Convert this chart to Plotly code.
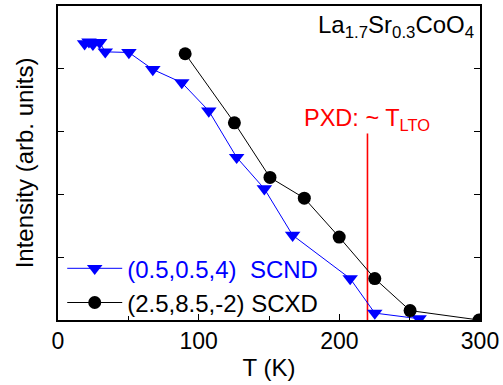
import plotly.graph_objects as go

# SCND (0.5,0.5,4) triangles
t_scnd = [18.9, 22.0, 24.8, 29.6, 33.6, 50.4, 67.4, 88.0, 107.2, 127.0, 146.7, 166.8, 207.7, 225.2, 256.7]
i_scnd = [4.40, 4.43, 4.39, 4.42, 4.27, 4.26, 3.99, 3.78, 3.33, 2.59, 2.09, 1.35, 0.66, 0.11, 0.02]

# SCXD (2.5,8.5,-2) circles
t_scxd = [90.4, 125.4, 150.7, 175.1, 199.9, 225.2, 250.3, 299.3]
i_scxd = [4.24, 3.14, 2.27, 1.94, 1.32, 0.66, 0.15, 0.0]

# PXD T_LTO marker line
t_lto = [220.0, 220.0]
i_lto = [0.0, 2.97]

FONT = "Arial, Liberation Sans, sans-serif"

fig = go.Figure()
fig.add_trace(go.Scatter(
    x=t_lto, y=i_lto, mode="lines", line=dict(color="#ff0000", width=1.6),
    showlegend=False, hoverinfo="skip"))
fig.add_trace(go.Scatter(
    x=t_scnd, y=i_scnd, mode="lines+markers",
    name='<span style="color:#0000ff">(0.5,0.5,4)  SCND</span>',
    line=dict(color="#0000ff", width=1),
    marker=dict(symbol="triangle-down", size=13.5, color="#0000ff")))
fig.add_trace(go.Scatter(
    x=t_scxd, y=i_scxd, mode="lines+markers",
    name="(2.5,8.5,-2) SCXD",
    line=dict(color="#000000", width=1),
    marker=dict(symbol="circle", size=13, color="#000000")))

fig.add_annotation(
    x=0.99, y=0.935, xref="paper", yref="paper", xanchor="right", yanchor="middle",
    text="La<sub>1.7</sub>Sr<sub>0.3</sub>CoO<sub>4</sub>", showarrow=False,
    font=dict(family=FONT, size=24, color="#000000"))
fig.add_annotation(
    x=t_lto[0], y=3.2, xref="x", yref="y", xanchor="center", yanchor="middle",
    text="PXD: ~ T<sub>LTO</sub>", showarrow=False,
    font=dict(family=FONT, size=23.5, color="#ff0000"))

fig.update_layout(
    width=503, height=385,
    margin=dict(l=58, r=22, t=4, b=65),
    paper_bgcolor="white", plot_bgcolor="white",
    font=dict(family=FONT, size=24, color="#000000"),
    legend=dict(x=0.01, y=0.235, xanchor="left", yanchor="top",
                bgcolor="rgba(0,0,0,0)", borderwidth=0,
                font=dict(family=FONT, size=24, color="#000000"),
                itemwidth=55, tracegroupgap=0),
)
fig.update_xaxes(
    range=[0, 300], tickvals=[0, 100, 200, 300], ticks="inside", ticklen=6,
    tickwidth=1, tickcolor="#000000",
    minor=dict(tickvals=[50, 150, 250], ticks="inside", ticklen=4, tickcolor="#000000"),
    showline=True, linecolor="#000000", linewidth=1.5, mirror=True,
    showgrid=False, zeroline=False,
    title=dict(text="T (K)", standoff=6, font=dict(size=24)),
    tickfont=dict(size=23))
fig.update_yaxes(
    range=[0, 5], tickvals=[1, 2, 3, 4], showticklabels=False,
    ticks="inside", ticklen=6, tickwidth=1, tickcolor="#000000",
    showline=True, linecolor="#000000", linewidth=1.5, mirror="allticks",
    showgrid=False, zeroline=False,
    title=dict(text="Intensity (arb. units)", standoff=16, font=dict(size=24)))

fig.write_html("out.html")
